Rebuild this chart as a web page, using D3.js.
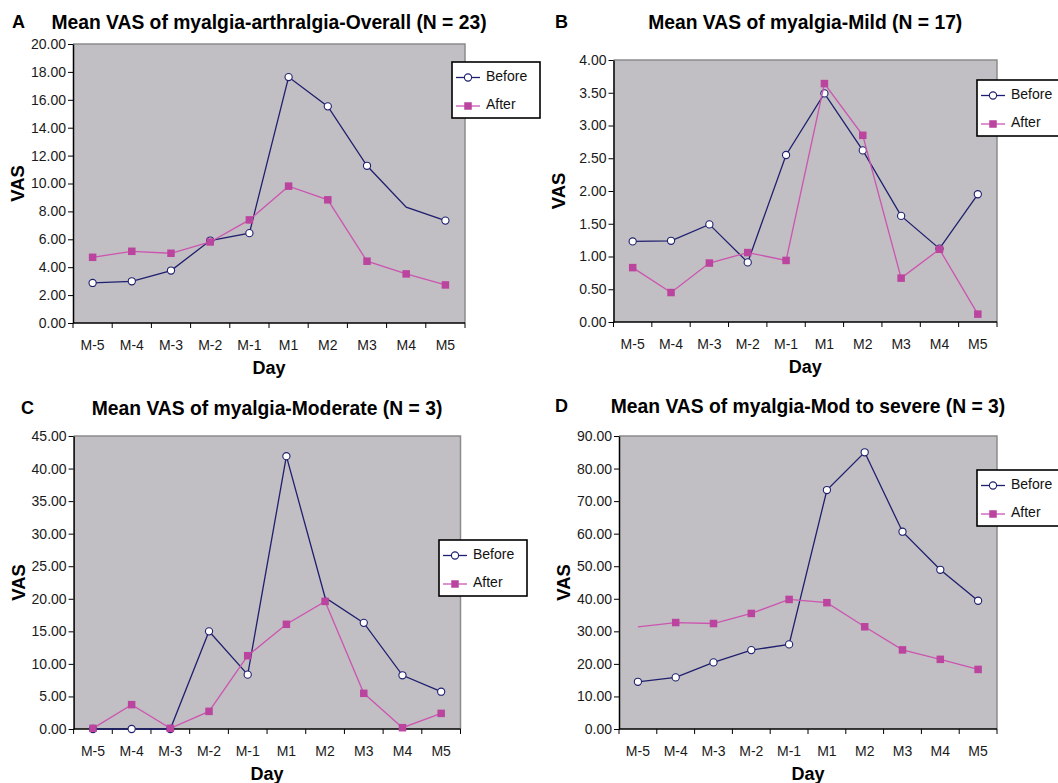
<!DOCTYPE html>
<html>
<head>
<meta charset="utf-8">
<script src="https://cdn.jsdelivr.net/npm/d3@7"></script>
<style>
  html, body { margin: 0; padding: 0; background: #fff; }
  svg { display: block; font-family: "Liberation Sans", Arial, sans-serif; }
</style>
</head>
<body>
<svg id="chart" width="1058" height="783"></svg>
<script>
// ---- data ----
const days = ["M-5", "M-4", "M-3", "M-2", "M-1", "M1", "M2", "M3", "M4", "M5"];

const beforeA = [2.87, 2.99, 3.76, 5.91, 6.44, 17.63, 15.53, 11.27, 8.30, 7.34];
const afterA  = [4.71, 5.14, 5.00, 5.81, 7.39, 9.81, 8.83, 4.43, 3.52, 2.73];

const beforeB = [1.23, 1.24, 1.49, 0.91, 2.55, 3.49, 2.62, 1.62, 1.12, 1.95];
const afterB  = [0.83, 0.45, 0.90, 1.06, 0.94, 3.64, 2.85, 0.67, 1.11, 0.12];

const beforeC = [0, 0, 0, 15.0, 8.35, 41.9, 20.2, 16.3, 8.25, 5.73];
const afterC  = [0.1, 3.74, 0.1, 2.71, 11.26, 16.08, 19.6, 5.48, 0.2, 2.4];

const beforeD = [14.5, 15.85, 20.45, 24.24, 25.98, 73.4, 85.0, 60.6, 48.9, 39.4];
const afterD  = [31.4, 32.7, 32.4, 35.5, 39.8, 38.8, 31.4, 24.3, 21.4, 18.3];

const panelLetters = ["A", "B", "C", "D"];
const panelTitles = [
  "Mean VAS of myalgia-arthralgia-Overall (N = 23)",
  "Mean VAS of myalgia-Mild (N = 17)",
  "Mean VAS of myalgia-Moderate (N = 3)",
  "Mean VAS of myalgia-Mod to severe (N = 3)"
];
const yMaxes = [20, 4, 45, 90];
const yStepValues = [2, 0.5, 5, 10];
const seriesNames = ["Before", "After"];
// points drawn without a marker in the original
const hiddenBeforeMarkers = [["M4"], [], ["M2"], []];
const hiddenAfterMarkers = [[], [], [], ["M-5"]];

const xLabel = "Day";
const yLabel = "VAS";

// ---- layout (pixels) ----
const layouts = [
  { x0: 73,    x1: 465, y0: 44,  y1: 323, titleY: 29,  letterX: 12,  legX: 452, legY: 62 },
  { x0: 613.5, x1: 997, y0: 60,  y1: 322, titleY: 29,  letterX: 555, legX: 977, legY: 80 },
  { x0: 73.6,  x1: 460.5, y0: 436, y1: 729, titleY: 415, letterX: 21, legX: 439, legY: 540 },
  { x0: 619,   x1: 997, y0: 436, y1: 729, titleY: 413, letterX: 555, legX: 977, legY: 470 }
];

const beforeColor = "#1f1f6f";
const afterLineColor = "#cc55b0";
const afterFill = "#bb449e";
const plotBg = "#c1bfc3";

const allBefore = [beforeA, beforeB, beforeC, beforeD];
const allAfter = [afterA, afterB, afterC, afterD];

const svg = d3.select("#chart");

layouts.forEach((L, i) => {
  const g = svg.append("g");
  const x = d3.scaleBand().domain(days).range([L.x0, L.x1]).paddingInner(0).paddingOuter(0);
  const y = d3.scaleLinear().domain([0, yMaxes[i]]).range([L.y1, L.y0]);
  const cx = d => x(d) + x.bandwidth() / 2;

  // plot background
  g.append("rect")
    .attr("x", L.x0).attr("y", L.y0)
    .attr("width", L.x1 - L.x0).attr("height", L.y1 - L.y0)
    .attr("fill", plotBg);
  // top/right border
  g.append("path")
    .attr("d", `M${L.x0},${L.y0}H${L.x1}V${L.y1}`)
    .attr("fill", "none").attr("stroke", "#8c8c8c").attr("stroke-width", 1.5);

  // y axis
  const ticks = d3.range(0, yMaxes[i] + yStepValues[i] / 2, yStepValues[i]);
  const yAxis = d3.axisLeft(y).tickValues(ticks).tickFormat(d3.format(".2f"))
    .tickSizeInner(5).tickSizeOuter(0).tickPadding(2);
  const ya = g.append("g").attr("transform", `translate(${L.x0},0)`).call(yAxis);
  ya.select(".domain").attr("stroke", "#000").attr("stroke-width", 1.5);
  ya.selectAll(".tick line").attr("stroke", "#000").attr("stroke-width", 1);
  ya.selectAll(".tick text").attr("font-size", 14).attr("fill", "#1a1a1a")
    .attr("font-family", "Liberation Sans, Arial, sans-serif");

  // x axis: ticks at category boundaries
  const xa = g.append("g").attr("transform", `translate(0,${L.y1})`);
  xa.append("line").attr("x1", L.x0).attr("x2", L.x1).attr("y1", 0).attr("y2", 0)
    .attr("stroke", "#000").attr("stroke-width", 1.5);
  const bounds = days.map(d => x(d)).concat([L.x1]);
  xa.selectAll("line.tk").data(bounds).join("line").attr("class", "tk")
    .attr("x1", d => d).attr("x2", d => d).attr("y1", 0).attr("y2", 5)
    .attr("stroke", "#000").attr("stroke-width", 1);
  xa.selectAll("text.lb").data(days).join("text").attr("class", "lb")
    .attr("x", d => cx(d)).attr("y", 27)
    .attr("text-anchor", "middle").attr("font-size", 14).attr("fill", "#1a1a1a")
    .text(d => d);

  // axis titles
  g.append("text").attr("x", (L.x0 + L.x1) / 2).attr("y", L.y1 + 51)
    .attr("text-anchor", "middle").attr("font-size", 18).attr("font-weight", "bold")
    .text(xLabel);
  const yMid = (L.y0 + L.y1) / 2;
  const yLabX = L.x0 - 49;
  g.append("text").attr("transform", `translate(${yLabX},${yMid}) rotate(-90)`)
    .attr("text-anchor", "middle").attr("font-size", 18.5).attr("font-weight", "bold")
    .text(yLabel);

  // title and letter
  g.append("text").attr("x", (L.x0 + L.x1) / 2).attr("y", L.titleY)
    .attr("text-anchor", "middle").attr("font-size", 19.3).attr("font-weight", "bold")
    .text(panelTitles[i]);
  g.append("text").attr("x", L.letterX).attr("y", L.titleY - 1)
    .attr("font-size", 18).attr("font-weight", "bold")
    .text(panelLetters[i]);

  // series
  const line = d3.line().x(d => cx(d.day)).y(d => y(d.v));
  const bData = days.map((d, k) => ({ day: d, v: allBefore[i][k] }));
  const aData = days.map((d, k) => ({ day: d, v: allAfter[i][k] }));

  g.append("path").datum(bData).attr("d", line)
    .attr("fill", "none").attr("stroke", beforeColor).attr("stroke-width", 1.3);
  g.selectAll("circle.bm").data(bData.filter(d => !hiddenBeforeMarkers[i].includes(d.day)))
    .join("circle").attr("class", "bm")
    .attr("cx", d => cx(d.day)).attr("cy", d => y(d.v)).attr("r", 3.6)
    .attr("fill", "#fff").attr("stroke", beforeColor).attr("stroke-width", 1.1);

  g.append("path").datum(aData).attr("d", line)
    .attr("fill", "none").attr("stroke", afterLineColor).attr("stroke-width", 1.3);
  g.selectAll("rect.am").data(aData.filter(d => !hiddenAfterMarkers[i].includes(d.day)))
    .join("rect").attr("class", "am")
    .attr("x", d => cx(d.day) - 3.75).attr("y", d => y(d.v) - 3.75)
    .attr("width", 7.5).attr("height", 7.5)
    .attr("fill", afterFill);

  // legend
  const lg = g.append("g").attr("transform", `translate(${L.legX},${L.legY})`);
  lg.append("rect").attr("x", 0).attr("y", 0).attr("width", 88).attr("height", 56)
    .attr("fill", "#fff").attr("stroke", "#000").attr("stroke-width", 1.6);
  const rows = [15.5, 44];
  // Before entry
  lg.append("line").attr("x1", 4).attr("x2", 28).attr("y1", rows[0]).attr("y2", rows[0])
    .attr("stroke", beforeColor).attr("stroke-width", 1.3);
  lg.append("circle").attr("cx", 16).attr("cy", rows[0]).attr("r", 3.6)
    .attr("fill", "#fff").attr("stroke", beforeColor).attr("stroke-width", 1.1);
  lg.append("text").attr("x", 34).attr("y", rows[0] + 3).attr("font-size", 14)
    .attr("fill", "#111").text(seriesNames[0]);
  // After entry
  lg.append("line").attr("x1", 4).attr("x2", 28).attr("y1", rows[1]).attr("y2", rows[1])
    .attr("stroke", afterLineColor).attr("stroke-width", 1.3);
  lg.append("rect").attr("x", 16 - 3.75).attr("y", rows[1] - 3.75).attr("width", 7.5).attr("height", 7.5)
    .attr("fill", afterFill);
  lg.append("text").attr("x", 34).attr("y", rows[1] + 3).attr("font-size", 14)
    .attr("fill", "#111").text(seriesNames[1]);
});
</script>
</body>
</html>
